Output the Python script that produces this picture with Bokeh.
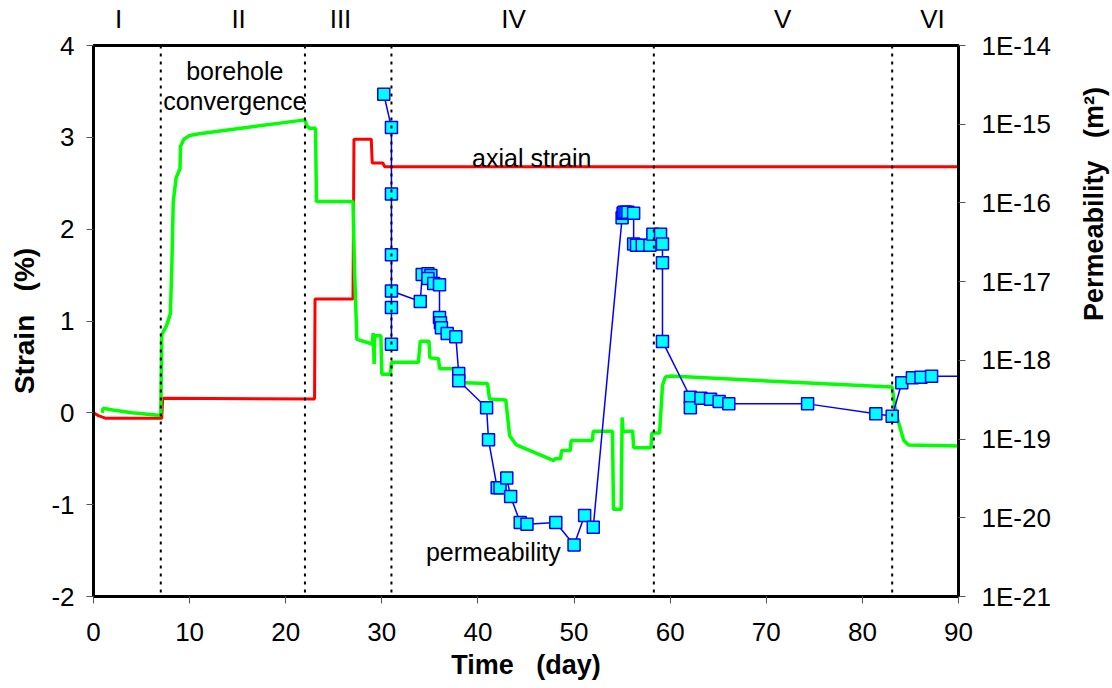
import math
from bokeh.plotting import figure
from bokeh.models import (Range1d, LinearAxis, LogAxis, LogScale, FixedTicker,
                          CustomJSTickFormatter, Span)
from bokeh.core.properties import value
from bokeh.embed import file_html
from bokeh.resources import INLINE

# ---------------- data ----------------
red_day = [0.0, 0.5, 1.3, 7.1, 7.2, 23.0, 23.05, 27.0, 27.1, 28.9, 29.0, 30.1, 30.3, 90.0]
red_strain = [0.0, -0.03, -0.06, -0.06, 0.16, 0.15, 1.24, 1.24, 2.98, 2.98, 2.72, 2.72, 2.68, 2.68]

green_day = [0.9, 1.0, 2.0, 4.0, 7.0, 7.1, 7.6, 8.0, 8.15, 8.3, 8.6, 9.0, 9.05, 9.4, 10.0,
             11.0, 22.0, 22.2, 22.5, 23.1, 23.2, 27.0, 27.15, 27.4, 29.0, 29.1, 29.2, 29.25,
             29.35, 29.9, 30.0, 30.9, 31.0, 33.8, 34.0, 34.9, 35.0, 35.9, 36.0, 37.6, 37.8,
             41.0, 41.2, 42.9, 43.3, 44.0, 47.9, 48.0, 48.6, 48.7, 49.6, 49.7, 51.9, 52.0,
             54.0, 54.1, 54.9, 55.0, 55.1, 56.1, 56.2, 58.0, 58.1, 58.9, 59.2, 59.5, 60.0,
             83.1, 83.4, 83.8, 84.3, 84.8, 90.0]
green_strain = [0.0, 0.05, 0.03, 0.0, -0.03, 0.85, 0.95, 1.08, 1.6, 2.3, 2.56, 2.66, 2.9, 2.98, 3.02,
                3.04, 3.19, 3.12, 3.10, 3.10, 2.30, 2.30, 1.6, 0.80, 0.75, 0.87, 0.53, 0.82,
                0.84, 0.84, 0.42, 0.42, 0.55, 0.55, 0.78, 0.78, 0.60, 0.59, 0.48, 0.48, 0.33,
                0.32, 0.15, 0.14, -0.25, -0.35, -0.52, -0.50, -0.50, -0.41, -0.41, -0.30, -0.30, -0.20,
                -0.20, -1.05, -1.05, -0.05, -0.20, -0.20, -0.38, -0.38, -0.22, -0.22, 0.30, 0.39, 0.40,
                0.28, 0.05, -0.12, -0.30, -0.35, -0.36]

perm_day = [30.2, 31.0, 31.0, 31.0, 31.0, 31.0, 31.0, 34.0, 34.2, 34.8, 35.1, 34.8, 35.4, 36.0,
            36.0, 36.1, 36.2, 36.8, 37.7, 38.0, 38.0, 40.9, 41.1, 42.0, 42.3, 43.0, 43.4, 44.4,
            45.1, 48.1, 50.0, 51.1, 52.0, 55.0, 55.1, 55.2, 55.4, 55.6, 56.2, 56.2, 56.5, 57.1,
            57.9, 58.2, 59.0, 59.2, 59.2, 59.2, 62.1, 62.1, 63.2, 64.2, 65.1, 66.1, 74.3, 81.4,
            83.1, 84.1, 85.2, 86.1, 87.2, 91.0]
perm_k = [2.4e-15, 9.1e-16, 1.3e-16, 2.2e-17, 4.7e-18, 1.6e-18, 7.6e-18, 5.6e-18, 1.23e-17, 1.26e-17,
          1.2e-17, 1.1e-17, 9.5e-18, 9.1e-18, 3.5e-18, 3.0e-18, 2.6e-18, 2.2e-18, 2.0e-18, 6.8e-19,
          5.5e-19, 2.5e-19, 9.8e-20, 2.4e-20, 2.4e-20, 3.2e-20, 1.86e-20, 8.7e-21, 8.3e-21, 8.7e-21,
          4.5e-21, 1.07e-20, 7.6e-21, 6.5e-17, 7.4e-17, 7.6e-17, 7.6e-17, 7.6e-17, 7.4e-17, 3.0e-17,
          2.9e-17, 2.9e-17, 2.9e-17, 4.0e-17, 4.0e-17, 3.0e-17, 1.74e-17, 1.74e-18, 3.4e-19, 2.5e-19,
          3.3e-19, 3.2e-19, 3.0e-19, 2.8e-19, 2.8e-19, 2.1e-19, 1.95e-19, 5.2e-19, 6.0e-19, 6.1e-19,
          6.3e-19, 6.3e-19]

phase_bounds = [7.0, 22.0, 31.0, 58.3, 83.1]
phase_names = ["I", "II", "III", "IV", "V", "VI"]
phase_label_day = [2.6, 15.1, 25.7, 43.7, 71.7, 87.3]

x_ticks = [0, 10, 20, 30, 40, 50, 60, 70, 80, 90]
strain_ticks = [-2, -1, 0, 1, 2, 3, 4]
perm_ticks = [1e-21, 1e-20, 1e-19, 1e-18, 1e-17, 1e-16, 1e-15, 1e-14]

FONT = "Liberation Sans"
PERM_TITLE = "Permeability\u00a0\u00a0\u00a0(m\u00b2)"

# ---------------- figure ----------------
p = figure(frame_width=865, frame_height=551,
           x_range=Range1d(0, 90), y_range=Range1d(-2, 4),
           output_backend="svg", toolbar_location=None,
           min_border_left=93, min_border_right=154, min_border_top=45, min_border_bottom=92,
           background_fill_color="white", border_fill_color="white")
p.xgrid.visible = False
p.ygrid.visible = False
p.outline_line_color = "black"
p.outline_line_width = 3

p.extra_y_ranges = {"perm": Range1d(1e-21, 1e-14)}
p.extra_y_scales = {"perm": LogScale()}

def style_axis(ax):
    ax.axis_line_color = "black"
    ax.axis_line_width = 3
    ax.major_tick_line_color = "#555555"
    ax.major_tick_line_width = 1
    ax.major_tick_out = 7
    ax.major_tick_in = 0
    ax.minor_tick_line_color = None
    ax.major_label_text_font = FONT
    ax.major_label_text_font_size = "26px"
    ax.major_label_text_color = "black"
    ax.axis_label_text_font = FONT
    ax.axis_label_text_font_size = "27px"
    ax.axis_label_text_font_style = "bold"
    ax.axis_label_text_color = "black"

xa = p.xaxis[0]
xa.ticker = FixedTicker(ticks=x_ticks)
xa.formatter = CustomJSTickFormatter(code="return String(tick);")
xa.axis_label = "Time\u00a0\u00a0\u00a0(day)"
style_axis(xa)
xa.major_label_standoff = 19
xa.axis_label_standoff = 6

ya = p.yaxis[0]
ya.ticker = FixedTicker(ticks=strain_ticks)
ya.formatter = CustomJSTickFormatter(code="return String(tick);")
ya.axis_label = "Strain\u00a0\u00a0\u00a0(%)"
style_axis(ya)
ya.axis_label_text_font_size = "28px"
ya.major_label_standoff = 12
ya.axis_label_standoff = 8

ra = LogAxis(y_range_name="perm", ticker=FixedTicker(ticks=perm_ticks),
             formatter=CustomJSTickFormatter(code="return '1E' + Math.round(Math.log10(tick));"))
style_axis(ra)
ra.major_label_standoff = 16
try:
    ra.axis_label_orientation = math.pi / 2
except Exception:
    pass
ra.axis_label = PERM_TITLE
ra.axis_label_standoff = 40
p.add_layout(ra, "right")

ta = LinearAxis(ticker=FixedTicker(ticks=phase_label_day),
                formatter=CustomJSTickFormatter(
                    args=dict(names=phase_names, pos=phase_label_day),
                    code="for (let i = 0; i < pos.length; i++) { if (Math.abs(pos[i] - tick) < 1e-6) return names[i]; } return '';"))
ta.axis_line_color = None
ta.major_tick_line_color = None
ta.minor_tick_line_color = None
ta.major_tick_out = 0
ta.major_tick_in = 0
ta.major_label_text_font = FONT
ta.major_label_text_font_size = "26px"
ta.major_label_text_color = "black"
ta.major_label_standoff = 12
p.add_layout(ta, "above")

for d in phase_bounds:
    p.add_layout(Span(location=d, dimension="height", line_color="black",
                      line_width=2, line_dash="3 5"))

# curves
p.line(red_day, red_strain, line_color="#FF0000", line_width=3)
p.line(green_day, green_strain, line_color="#00FF00", line_width=3.5)
p.line(perm_day, perm_k, y_range_name="perm", line_color="#0000FF", line_width=1.5)
p.scatter(perm_day, perm_k, y_range_name="perm", marker="square", size=12,
          fill_color="#00FFFF", line_color="#0000FF", line_width=1.5)

# annotations in plot
p.text(x=[14.7, 14.7], y=[3.72, 3.40], text=["borehole", "convergence"],
       text_font=value(FONT), text_font_size="25px", text_align="center",
       text_baseline="alphabetic", text_color="black")
p.text(x=[45.6], y=[2.77], text=["axial strain"],
       text_font=value(FONT), text_font_size="25px", text_align="center",
       text_baseline="alphabetic", text_color="black")
p.text(x=[41.6], y=[-1.51], text=["permeability"],
       text_font=value(FONT), text_font_size="25px", text_align="center",
       text_baseline="alphabetic", text_color="black")

open("out.html", "w").write(file_html(p, INLINE))
